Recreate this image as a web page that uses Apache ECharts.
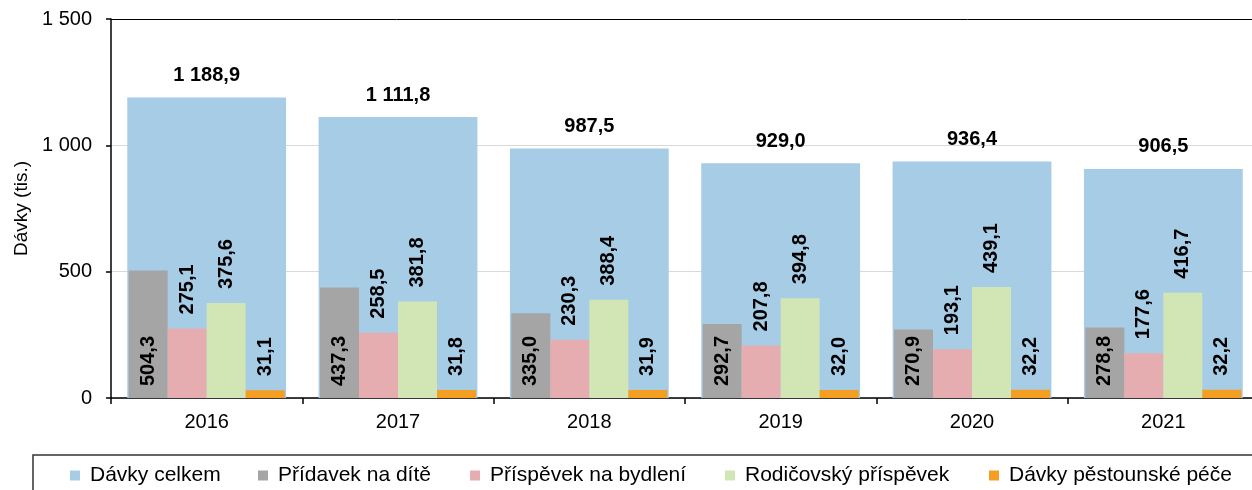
<!DOCTYPE html>
<html>
<head>
<meta charset="utf-8">
<script src="https://cdn.jsdelivr.net/npm/echarts@6/dist/echarts.min.js"></script>
<style>
  html, body { margin: 0; padding: 0; background: #fff; }
  #container { width: 1252px; height: 490px; }
</style>
</head>
<body>
<div id="container"></div>
<script>
var years = ['2016', '2017', '2018', '2019', '2020', '2021'];
var celkem = [1188.9, 1111.8, 987.5, 929.0, 936.4, 906.5];
var pridavek = [504.3, 437.3, 335.0, 292.7, 270.9, 278.8];
var bydleni = [275.1, 258.5, 230.3, 207.8, 193.1, 177.6];
var rodicovsky = [375.6, 381.8, 388.4, 394.8, 439.1, 416.7];
var pestounske = [31.1, 31.8, 31.9, 32.0, 32.2, 32.2];
var yTicks = [0, 500, 1000, 1500];

var seriesNames = ['Dávky celkem', 'Přídavek na dítě', 'Příspěvek na bydlení', 'Rodičovský příspěvek', 'Dávky pěstounské péče'];
var colors = ['#a7cce6', '#a5a5a5', '#e6adb0', '#d2e5b4', '#f59f22'];
var legendLeft = [70, 258, 470, 725, 989];

var FONT = '"Liberation Sans", Arial, sans-serif';

function fmt(v, dec){
	var s = v.toFixed(dec);
	var parts = s.split('.');
	parts[0] = parts[0].replace(/\B(?=(\d{3})+(?!\d))/g, ' ');
	return parts.join(',');
}

function rotLabel(pos, dist){
	return {
		show : true,
		position : pos,
		rotate : 90,
		align : 'left',
		verticalAlign : 'middle',
		distance : dist,
		color : '#000',
		fontWeight : 'bold',
		fontSize : 20,
		fontFamily : FONT,
		formatter : function(p){ return fmt(p.value, 1); }
	};
}

function smallBar(i, data, label){
	return {
		name : seriesNames[i],
		type : 'bar',
		xAxisIndex : 0,
		barWidth : 39,
		barGap : '0%',
		itemStyle : { color : colors[i] },
		label : label,
		z : 3,
		data : data
	};
}

var legends = seriesNames.map(function(n, i){
	return {
		data : [n],
		left : legendLeft[i],
		top : 465,
		padding : 0,
		icon : 'rect',
		itemWidth : 10,
		itemHeight : 10,
		selectedMode : false,
		textStyle : { fontSize : 21, fontFamily : FONT, color : '#000', padding : [0, 0, 0, 5] }
	};
});

var opt = {
	animation : false,
	textStyle : { fontFamily : FONT },
	grid : { left : 111, top : 19, width : 1148, height : 379, containLabel : false, outerBoundsMode : 'none' },
	legend : legends,
	graphic : [{
		type : 'rect',
		shape : { x : 33, y : 455, width : 1240, height : 60 },
		style : { fill : 'none', stroke : '#333', lineWidth : 1.5 },
		silent : true
	}],
	xAxis : [{
		type : 'category',
		data : years,
		axisLine : { lineStyle : { color : '#000', width : 1.5 } },
		axisTick : { show : true, length : 6, lineStyle : { color : '#000', width : 1.5 } },
		axisLabel : { color : '#000', fontSize : 20, fontFamily : FONT, margin : 14 }
	}, {
		type : 'category',
		data : years,
		show : false
	}],
	yAxis : {
		type : 'value',
		min : 0,
		max : 1500,
		interval : 500,
		name : 'Dávky (tis.)',
		nameLocation : 'middle',
		nameGap : 80,
		nameTextStyle : { color : '#000', fontSize : 19, fontFamily : FONT },
		axisLine : { show : true, lineStyle : { color : '#000', width : 1.5 } },
		axisTick : { show : true, length : 5, lineStyle : { color : '#000', width : 1.5 } },
		axisLabel : {
			color : '#000', fontSize : 20, fontFamily : FONT, margin : 19,
			formatter : function(v){ return yTicks.indexOf(v) >= 0 ? fmt(v, 0) : ''; }
		},
		splitLine : { show : true, lineStyle : { color : ['#d9d9d9', '#d9d9d9', '#d9d9d9', '#000'], width : [1] } }
	},
	series : [
		{
			name : seriesNames[0],
			type : 'bar',
			xAxisIndex : 1,
			barWidth : '83%',
			itemStyle : { color : colors[0] },
			z : 2,
			label : {
				show : true,
				position : 'top',
				distance : 12,
				color : '#000',
				fontWeight : 'bold',
				fontSize : 20,
				fontFamily : FONT,
				formatter : function(p){ return fmt(p.value, 1); }
			},
			data : celkem
		},
		smallBar(1, pridavek, rotLabel('insideBottom', 12)),
		smallBar(2, bydleni, rotLabel('top', 14)),
		smallBar(3, rodicovsky, rotLabel('top', 14)),
		smallBar(4, pestounske, rotLabel('top', 14))
	]
};

echarts.init(document.getElementById('container')).setOption(opt);
</script>
</body>
</html>
